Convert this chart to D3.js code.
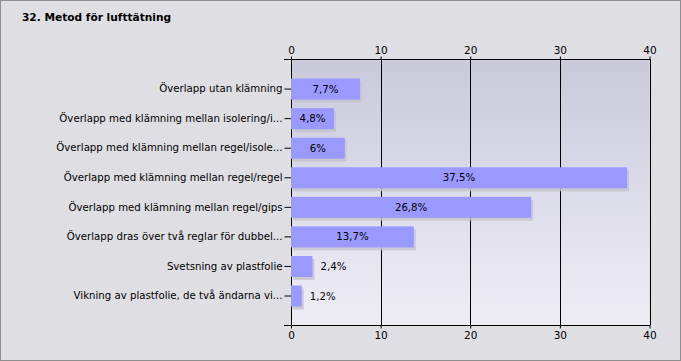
<!DOCTYPE html>
<html><head><meta charset="utf-8">
<script src="https://cdn.jsdelivr.net/npm/d3@7"></script>
<style>body{margin:0;background:#fff}svg{display:block}text{font-family:"DejaVu Sans",Verdana,sans-serif}</style>
</head><body>
<script>
const title = "32. Metod för lufttätning";
const categories = [
  "Överlapp utan klämning",
  "Överlapp med klämning mellan isolering/i...",
  "Överlapp med klämning mellan regel/isole...",
  "Överlapp med klämning mellan regel/regel",
  "Överlapp med klämning mellan regel/gips",
  "Överlapp dras över två reglar för dubbel...",
  "Svetsning av plastfolie",
  "Vikning av plastfolie, de två ändarna vi..."
];
const values = [7.7, 4.8, 6, 37.5, 26.8, 13.7, 2.4, 1.2];
const valueLabels = ["7,7%", "4,8%", "6%", "37,5%", "26,8%", "13,7%", "2,4%", "1,2%"];
const ticks = [0, 10, 20, 30, 40];

const W = 681, H = 361;
const svg = d3.select("body").append("svg").attr("width", W).attr("height", H);
const defs = svg.append("defs");
const grad = defs.append("linearGradient").attr("id","bg").attr("x1",0).attr("y1",0).attr("x2",0).attr("y2",1);
grad.append("stop").attr("offset","0%").attr("stop-color","#cac9db");
grad.append("stop").attr("offset","100%").attr("stop-color","#eeedf6");

svg.append("rect").attr("x",0.5).attr("y",0.5).attr("width",W-1).attr("height",H-1)
  .attr("fill","#dfdee3").attr("stroke","#8e8e8e");

svg.append("text").attr("x",22).attr("y",21).attr("font-size",10.6).attr("font-weight","bold")
  .attr("fill","#000").text(title);

const plotTop = 59, plotBottom = 325;
const x = d3.scaleLinear().domain([0, 40]).range([291, 649.5]);
const y = d3.scaleBand().domain(categories).range([74.3, 310.8]).paddingInner(0.29).paddingOuter(0.145);

svg.append("rect").attr("x", x(0)).attr("y", plotTop).attr("width", x(40)-x(0)).attr("height", plotBottom-plotTop)
  .attr("fill","url(#bg)");

svg.append("g").selectAll("line").data(ticks).join("line")
  .attr("x1", d => Math.round(x(d))+0.5).attr("x2", d => Math.round(x(d))+0.5)
  .attr("y1", plotTop).attr("y2", plotBottom).attr("stroke","#000");

const gTop = svg.append("g").attr("transform",`translate(0,${plotTop+0.5})`).call(d3.axisTop(x).tickValues(ticks).tickSize(3).tickSizeOuter(0));
const gBot = svg.append("g").attr("transform",`translate(0,${plotBottom+0.5})`).call(d3.axisBottom(x).tickValues(ticks).tickSize(3).tickSizeOuter(0));
[gTop, gBot].forEach(g => {
  g.select(".domain").remove();
  g.append("line").attr("x1",284).attr("x2",x(40)+1).attr("y1",0).attr("y2",0).attr("stroke","#000");
  g.selectAll(".tick text").attr("font-size",10.5).attr("fill","#000").attr("font-family","DejaVu Sans, Verdana, sans-serif");
  g.selectAll(".tick line").attr("stroke","#000");
});

const gLeft = svg.append("g").attr("transform",`translate(${Math.round(x(0))+0.5},0)`)
  .call(d3.axisLeft(y).tickSize(7).tickPadding(2).tickSizeOuter(0));
gLeft.select(".domain").remove();
gLeft.selectAll(".tick text").attr("font-size",10.2).attr("fill","#000").attr("font-family","DejaVu Sans, Verdana, sans-serif");
gLeft.selectAll(".tick line").attr("stroke","#000");

const rows = categories.map((c,i)=>({c, v: values[i], l: valueLabels[i]}));
svg.append("g").selectAll("rect").data(rows).join("rect")
  .attr("x", x(0)+2).attr("y", d => y(d.c)+3)
  .attr("width", d => x(d.v)-x(0)).attr("height", y.bandwidth())
  .attr("fill","#c4c3cc").attr("opacity",0.8);
svg.append("g").selectAll("rect").data(rows).join("rect")
  .attr("x", x(0)).attr("y", d => y(d.c))
  .attr("width", d => x(d.v)-x(0)).attr("height", y.bandwidth())
  .attr("fill","#9999ff");

svg.append("g").selectAll("text").data(rows).join("text")
  .attr("x", d => (x(d.v)-x(0) > 35) ? (x(0)+x(d.v))/2 : x(d.v)+8)
  .attr("text-anchor", d => (x(d.v)-x(0) > 35) ? "middle" : "start")
  .attr("y", d => y(d.c)+y.bandwidth()/2).attr("dy","0.35em")
  .attr("font-size",10.2).attr("fill","#000").text(d => d.l);
</script>
</body></html>
